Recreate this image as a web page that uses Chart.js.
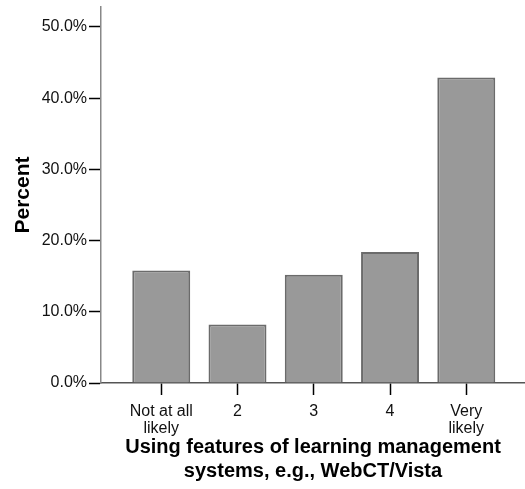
<html>
<head>
<script src="https://cdn.jsdelivr.net/npm/chart.js"></script>
<style>
  body { margin: 0; background: #fff }
  div { position: relative; width: 525px; height: 489px }
</style>
</head>
<body>
<div><canvas id="myChart"></canvas></div>

<script>
// data
categories = [['Not at all', 'likely'], '2', '3', '4', ['Very', 'likely']]
positions = [1, 2, 3, 4, 5]
percents = [15.8, 8.2, 15.2, 18.4, 42.9]
yTicks = [0, 10, 20, 30, 40, 50]

mydata = positions.map((p, i) => ({ x: p, y: percents[i] }))

const config = {
  type: 'bar',
  data: {
    datasets: [{
      data: mydata,
      backgroundColor: '#999999',
      borderColor: '#6b6b6b',
      borderWidth: 2,
      barPercentage: 0.76,
      categoryPercentage: 1
    }]
  },
  options: {
    responsive: true,
    maintainAspectRatio: false,
    animation: false,
    layout: { padding: { top: 7, right: 0, left: 0, bottom: 0 } },
    plugins: { legend: { display: false }, tooltip: { enabled: false } },
    scales: {
      x: {
        type: 'linear',
        offset: false,
        min: 0.21,
        max: 5.77,
        afterBuildTicks: s => { s.ticks = positions.map(v => ({ value: v })) },
        afterFit: s => { s.height = 106; s.paddingLeft = 0; s.paddingRight = 0 },
        border: { color: '#555', width: 1.5 },
        grid: { offset: false, drawOnChartArea: false, drawTicks: true, tickLength: 12, tickColor: '#000', tickWidth: 1.5 },
        ticks: {
          color: '#111',
          font: { family: 'Liberation Sans', size: 16, lineHeight: 1.05 },
          padding: 8,
          maxRotation: 0,
          callback: v => categories[positions.indexOf(v)]
        },
        title: {
          display: true,
          text: ['Using features of learning management', 'systems, e.g., WebCT/Vista'],
          color: '#000',
          font: { family: 'Liberation Sans', size: 20, weight: 'bold', lineHeight: 1.2 },
          padding: { top: 4, bottom: 6 }
        }
      },
      y: {
        min: 0,
        max: 52.8,
        afterBuildTicks: s => { s.ticks = yTicks.map(v => ({ value: v })) },
        afterFit: s => { s.width = 101; s.paddingTop = 0; s.paddingBottom = 0 },
        border: { color: '#888', width: 1.5 },
        grid: { drawOnChartArea: false, drawTicks: true, tickLength: 12, tickColor: '#000', tickWidth: 1.5 },
        ticks: {
          color: '#111',
          font: { family: 'Liberation Sans', size: 16 },
          padding: 2,
          callback: v => v.toFixed(1) + '%'
        },
        title: {
          display: true,
          text: 'Percent',
          color: '#000',
          font: { family: 'Liberation Sans', size: 21, weight: 'bold', lineHeight: 1.1 },
          padding: { top: 12, bottom: 4 }
        }
      }
    }
  }
}

const myChart = new Chart(document.getElementById('myChart'), config)
</script>
</body>
</html>
